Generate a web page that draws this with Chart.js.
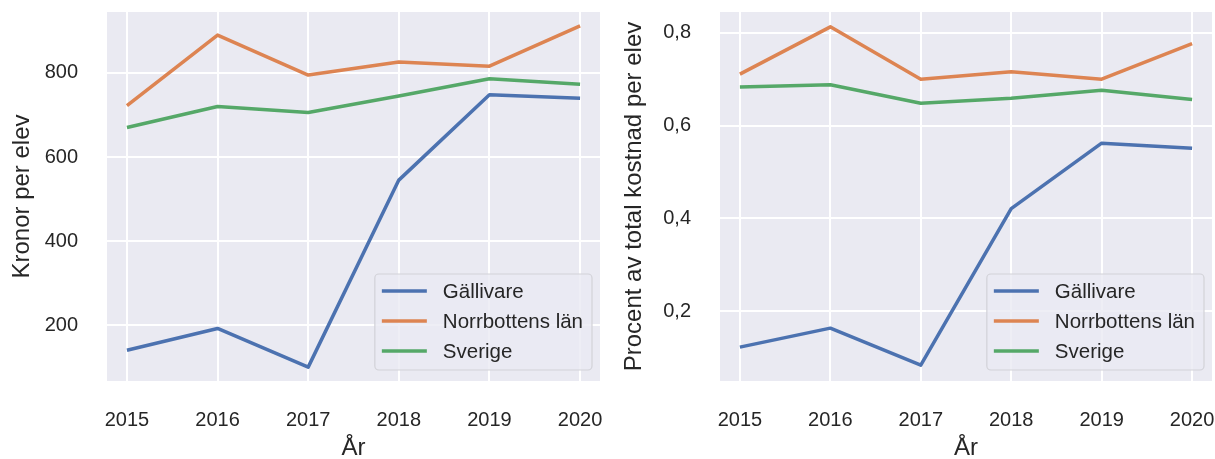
<!DOCTYPE html>
<html>
<head>
<meta charset="utf-8">
<script src="https://cdn.jsdelivr.net/npm/chart.js@4"></script>
<style>
  body { margin: 0; background: #fff; }
  .wrap { position: absolute; top: 0; height: 459px; }
</style>
</head>
<body>
<div class="wrap" style="left:0;width:610px"><canvas id="kronor"></canvas></div>
<div class="wrap" style="left:610px;width:605px"><canvas id="procent"></canvas></div>
<script>
const years = [2015, 2016, 2017, 2018, 2019, 2020];

// Kronor per elev
const kronorGallivare = [140, 192, 100, 545, 748, 740];
const kronorNorrbotten = [722, 890, 795, 826, 816, 912];
const kronorSverige = [670, 720, 706, 745, 786, 773];
const kronorTicks = [200, 400, 600, 800];

// Procent av total kostnad per elev
const procentGallivare = [0.122, 0.163, 0.083, 0.421, 0.562, 0.551];
const procentNorrbotten = [0.711, 0.813, 0.700, 0.716, 0.700, 0.777];
const procentSverige = [0.683, 0.688, 0.648, 0.659, 0.676, 0.656];
const procentTicks = [0.2, 0.4, 0.6, 0.8];

const seriesNames = ['Gällivare', 'Norrbottens län', 'Sverige'];
const colors = ['#4C72B0', '#DD8452', '#55A868'];
const textColor = '#262626';
const fontFamily = '"Liberation Sans", Arial, sans-serif';

// grey panel behind the plot area
const panelBg = {
  id: 'panelBg',
  beforeDraw(chart) {
    const { ctx, chartArea: a } = chart;
    ctx.save();
    ctx.fillStyle = '#EAEAF2';
    ctx.fillRect(a.left, a.top, a.right - a.left, a.bottom - a.top);
    ctx.restore();
  }
};

// matplotlib style legend in the lower right corner
const boxLegend = {
  id: 'boxLegend',
  afterDatasetsDraw(chart) {
    const { ctx, chartArea: a } = chart;
    ctx.save();
    ctx.font = '20.5px ' + fontFamily;
    const items = chart.data.datasets;
    let tw = 0;
    items.forEach(d => { tw = Math.max(tw, ctx.measureText(d.label).width); });
    const w = 68 + tw + 9;
    const h = 96;
    const x = a.right - 8 - w;
    const y = a.bottom - 11 - h;
    ctx.beginPath();
    ctx.roundRect(x, y, w, h, 4);
    ctx.fillStyle = 'rgba(234,234,242,0.8)';
    ctx.fill();
    ctx.strokeStyle = '#D2D2D8';
    ctx.lineWidth = 1.2;
    ctx.stroke();
    items.forEach((d, i) => {
      const cy = y + 17 + i * 30;
      ctx.beginPath();
      ctx.moveTo(x + 7, cy);
      ctx.lineTo(x + 52, cy);
      ctx.strokeStyle = d.borderColor;
      ctx.lineWidth = 3.5;
      ctx.stroke();
      ctx.fillStyle = textColor;
      ctx.textBaseline = 'middle';
      ctx.fillText(d.label, x + 68, cy + 1);
    });
    ctx.restore();
  }
};

// drop the extra room chart.js reserves for tick labels
function noPad(s) {
  s.paddingTop = 0; s.paddingBottom = 0; s.paddingLeft = 0; s.paddingRight = 0;
}

function makeChart(id, series, yTicks, yMin, yMax, yTitle, yWidth, titlePad, rightPad, fmt) {
  return new Chart(document.getElementById(id), {
    type: 'line',
    data: {
      datasets: series.map((vals, i) => ({
        label: seriesNames[i],
        data: years.map((yr, j) => ({ x: yr, y: vals[j] })),
        borderColor: colors[i],
        borderWidth: 3.5,
        pointRadius: 0,
        tension: 0,
        borderJoinStyle: 'round',
        order: 3 - i
      }))
    },
    options: {
      responsive: true,
      maintainAspectRatio: false,
      animation: false,
      layout: { padding: { top: 12, right: rightPad, left: 0, bottom: 0 } },
      plugins: { legend: { display: false }, tooltip: { enabled: false } },
      scales: {
        x: {
          type: 'linear',
          min: 2014.78,
          max: 2020.22,
          afterBuildTicks: s => { s.ticks = years.map(v => ({ value: v })); },
          afterFit: s => { s.height = 78; noPad(s); },
          grid: { color: '#ffffff', lineWidth: 2, drawTicks: false },
          border: { display: false },
          ticks: { padding: 27, color: textColor, font: { family: fontFamily, size: 20 }, callback: v => String(v) },
          title: { display: true, text: 'År', color: textColor, font: { family: fontFamily, size: 24 }, padding: { top: 0, bottom: -4 } }
        },
        y: {
          min: yMin,
          max: yMax,
          afterBuildTicks: s => { s.ticks = yTicks.map(v => ({ value: v })); },
          afterFit: s => { s.width = yWidth; noPad(s); },
          grid: { color: '#ffffff', lineWidth: 2, drawTicks: false },
          border: { display: false },
          ticks: { padding: 29, color: textColor, font: { family: fontFamily, size: 20 }, callback: fmt },
          title: { display: true, text: yTitle, color: textColor, font: { family: fontFamily, size: 24 }, padding: { top: titlePad, bottom: 0 } }
        }
      }
    },
    plugins: [panelBg, boxLegend]
  });
}

makeChart('kronor', [kronorGallivare, kronorNorrbotten, kronorSverige], kronorTicks,
  67, 945, 'Kronor per elev', 107, 8, 10, v => String(v));

makeChart('procent', [procentGallivare, procentNorrbotten, procentSverige], procentTicks,
  0.049, 0.845, 'Procent av total kostnad per elev', 110, 10, 3, v => v.toFixed(1).replace('.', ','));
</script>
</body>
</html>
